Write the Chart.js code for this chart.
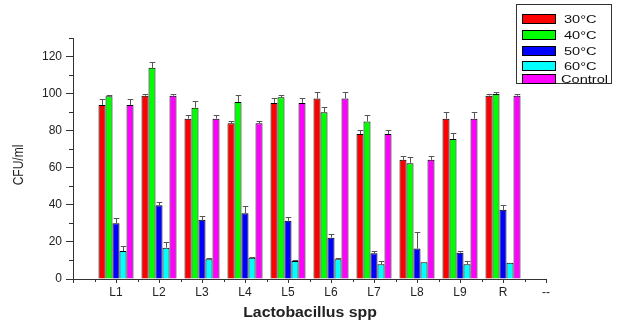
<!DOCTYPE html>
<html>
<head>
<meta charset="utf-8">
<script src="https://cdn.jsdelivr.net/npm/chart.js@4/dist/chart.umd.min.js"></script>
<style>
  html, body { margin: 0; padding: 0; background: #ffffff; }
  #wrap { width: 624px; height: 325px; position: relative; }
</style>
</head>
<body>
<div id="wrap"><canvas id="c" width="624" height="325"></canvas></div>
<script>
// ---- data ----
const categories = ['L1', 'L2', 'L3', 'L4', 'L5', 'L6', 'L7', 'L8', 'L9', 'R'];
const xTickLabels = ['', ...categories, '--'];
const yTickValues = [0, 20, 40, 60, 80, 100, 120];
const seriesNames = ['30\u00B0C', '40\u00B0C', '50\u00B0C', '60\u00B0C', 'Control'];
const seriesColors = ['#FF0000', '#00FF00', '#0000FF', '#00FFFF', '#FF00FF'];

const t30 = [93.9, 98.9, 86.5, 84.0, 95.0, 97.3, 78.2, 64.3, 86.5, 98.9];
const t40 = [98.6, 113.9, 92.4, 95.5, 98.0, 89.9, 85.0, 62.5, 75.5, 99.8];
const t50 = [30.1, 39.8, 31.9, 35.5, 31.4, 22.3, 13.9, 16.4, 14.2, 37.3];
const t60 = [15.1, 16.9, 10.6, 11.5, 9.7, 10.6, 7.9, 9.0, 7.9, 8.8];
const control = [93.9, 98.9, 86.5, 84.0, 95.0, 97.3, 78.2, 64.3, 86.5, 98.9];

const e30 = [3.0, 1.0, 2.0, 1.2, 2.7, 3.6, 2.3, 2.3, 3.8, 1.0];
const e40 = [0.5, 3.0, 3.6, 3.6, 1.4, 2.9, 3.6, 3.4, 3.2, 1.0];
const e50 = [2.7, 1.6, 2.3, 3.8, 2.3, 1.8, 1.4, 9.2, 0.7, 2.5];
const e60 = [2.7, 3.0, 0.6, 0.5, 0.6, 0.6, 1.6, 0, 1.6, 0];
const eCtrl = [3.0, 1.0, 2.0, 1.2, 2.7, 3.6, 2.3, 2.3, 3.8, 1.0];

const seriesValues = [t30, t40, t50, t60, control];
const seriesErrors = [e30, e40, e50, e60, eCtrl];

Chart.defaults.font.family = '"Liberation Sans", Arial, sans-serif';
Chart.defaults.color = '#222';

const pad = arr => [null, ...arr, null];

// error bars (upper half) drawn via scales
const errorBars = {
  id: 'errorBars',
  afterDatasetsDraw(chart) {
    const ctx = chart.ctx;
    const y = chart.scales.y;
    ctx.save();
    ctx.strokeStyle = '#555';
    ctx.lineWidth = 1;
    chart.data.datasets.forEach((ds, i) => {
      const meta = chart.getDatasetMeta(i);
      meta.data.forEach((el, j) => {
        const v = ds.data[j];
        if (v === null || v === undefined) return;
        const err = seriesErrors[i][j - 1];
        if (!err) return;
        const yTop = Math.round(y.getPixelForValue(v + err)) + 0.5;
        const x = Math.round(el.x) + 0.5;
        const half = el.width * 0.4;
        ctx.beginPath();
        ctx.moveTo(x, el.y);
        ctx.lineTo(x, yTop);
        ctx.moveTo(x - half, yTop);
        ctx.lineTo(x + half, yTop);
        ctx.stroke();
      });
    });
    ctx.restore();
  }
};

// minor ticks, axis titles and legend box
const decorations = {
  id: 'decorations',
  afterDraw(chart) {
    const ctx = chart.ctx;
    const xs = chart.scales.x;
    const ys = chart.scales.y;
    const area = chart.chartArea;
    ctx.save();
    ctx.strokeStyle = '#333';
    ctx.lineWidth = 1;
    // y minor ticks
    for (let v = 10; v <= 130; v += 20) {
      const py = Math.round(ys.getPixelForValue(v)) + 0.5;
      ctx.beginPath();
      ctx.moveTo(area.left - 4, py);
      ctx.lineTo(area.left, py);
      ctx.stroke();
    }
    // short extension of the y axis below the x axis
    const lx = Math.round(area.left) + 0.5;
    ctx.beginPath();
    ctx.moveTo(lx, area.bottom);
    ctx.lineTo(lx, area.bottom + 4);
    ctx.stroke();
    // x minor ticks
    for (let i = 0; i < xTickLabels.length - 1; i++) {
      const px = Math.round((xs.getPixelForValue(i) + xs.getPixelForValue(i + 1)) / 2) + 0.5;
      ctx.beginPath();
      ctx.moveTo(px, area.bottom);
      ctx.lineTo(px, area.bottom + 3);
      ctx.stroke();
    }
    // axis titles
    ctx.fillStyle = '#222';
    ctx.textAlign = 'center';
    ctx.textBaseline = 'middle';
    ctx.save();
    ctx.translate(310, 313);
    ctx.scale(1.13, 1);
    ctx.font = 'bold 14px "Liberation Sans", Arial, sans-serif';
    ctx.fillText('Lactobacillus spp', 0, 0);
    ctx.restore();

    ctx.save();
    ctx.translate(19, 165);
    ctx.rotate(-Math.PI / 2);
    ctx.scale(1, 1.2);
    ctx.font = '12px "Liberation Sans", Arial, sans-serif';
    ctx.fillText('CFU/ml', 0, 0);
    ctx.restore();

    // legend
    ctx.strokeStyle = '#333';
    ctx.strokeRect(516.5, 4.5, 95, 79);
    const swTops = [13.5, 30, 45.5, 60.5, 74];
    ctx.textAlign = 'left';
    chart.data.datasets.forEach((ds, i) => {
      const top = Math.round(swTops[i]) + 0.5;
      ctx.fillStyle = ds.backgroundColor;
      ctx.fillRect(522.5, top, 33, 9);
      ctx.strokeStyle = '#000';
      ctx.strokeRect(522.5, top, 33, 9);
      ctx.save();
      ctx.translate(i === 4 ? 561 : 564, top + 5);
      ctx.scale(1.27, 1);
      ctx.fillStyle = '#111';
      ctx.font = '11.5px "Liberation Sans", Arial, sans-serif';
      ctx.fillText(ds.label, 0, 0);
      ctx.restore();
    });
    ctx.restore();
  }
};

new Chart(document.getElementById('c'), {
  type: 'bar',
  data: {
    labels: xTickLabels,
    datasets: seriesNames.map((name, i) => ({
      label: name,
      data: pad(seriesValues[i]),
      backgroundColor: seriesColors[i],
      borderColor: '#000',
      borderWidth: 1,
      barPercentage: 1,
      categoryPercentage: 0.814
    }))
  },
  options: {
    responsive: false,
    devicePixelRatio: 1,
    animation: false,
    layout: { padding: { left: 0, right: 78, top: 38, bottom: 0 } },
    plugins: {
      legend: { display: false },
      tooltip: { enabled: false }
    },
    scales: {
      x: {
        type: 'category',
        offset: false,
        grid: { display: true, drawOnChartArea: false, tickLength: 4, tickColor: '#333', offset: false },
        border: { display: true, color: '#333', width: 1 },
        ticks: { font: { size: 12 }, color: '#222', padding: 2, autoSkip: false, maxRotation: 0 },
        afterFit(scale) { scale.height = 46; }
      },
      y: {
        min: 0,
        max: 130,
        grid: { display: true, drawOnChartArea: false, tickLength: 7, tickColor: '#333' },
        border: { display: true, color: '#333', width: 1 },
        ticks: { font: { size: 12 }, color: '#222', padding: 4 },
        afterBuildTicks(scale) { scale.ticks = yTickValues.map(v => ({ value: v })); },
        afterFit(scale) { scale.width = 73; }
      }
    }
  },
  plugins: [errorBars, decorations]
});
</script>
</body>
</html>
